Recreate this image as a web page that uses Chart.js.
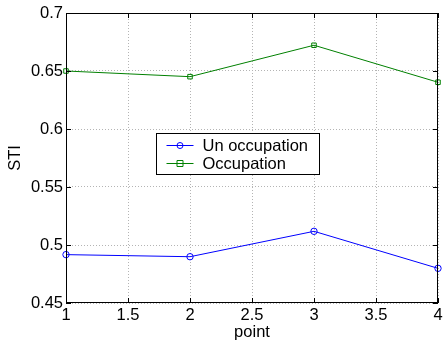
<!DOCTYPE html>
<html>
<head>
<meta charset="utf-8">
<script src="https://cdn.jsdelivr.net/npm/chart.js@4/dist/chart.umd.min.js"></script>
<style>
  html, body { margin: 0; padding: 0; background: #fff; }
  #wrap { width: 443px; height: 344px; }
</style>
</head>
<body>
<div id="wrap"><canvas id="c" width="443" height="344"></canvas></div>
<script>
// valores
const points = [1, 2, 3, 4];
const unOccupation = [0.4917, 0.4899, 0.5118, 0.4799];
const occupation = [0.6500, 0.6451, 0.6722, 0.6403];
const seriesNames = ['Un occupation', 'Occupation'];
const seriesColors = ['#0000ff', '#008000'];
const seriesMarkers = ['circle', 'rect'];
const xTicks = [1, 1.5, 2, 2.5, 3, 3.5, 4];
const yTicks = [0.45, 0.5, 0.55, 0.6, 0.65, 0.7];

const FONT = 'Liberation Sans, Arial, sans-serif';
const FONT_SIZE = 16.5;

function toXY(values) {
  return points.map((p, i) => ({ x: p, y: values[i] }));
}

// caja, ticks interiores (estilo matlab) y leyenda centrada
const boxPlugin = {
  id: 'box',
  afterDraw(chart) {
    const { ctx, chartArea: a, scales } = chart;
    ctx.save();
    ctx.strokeStyle = '#000';
    ctx.lineWidth = 1;
    ctx.strokeRect(a.left + 0.5, a.top + 0.5, a.right - a.left - 1, a.bottom - a.top - 1);
    const tl = 5;
    ctx.beginPath();
    xTicks.forEach((v) => {
      const px = Math.round(scales.x.getPixelForValue(v)) + 0.5;
      ctx.moveTo(px, a.bottom); ctx.lineTo(px, a.bottom - tl);
      ctx.moveTo(px, a.top); ctx.lineTo(px, a.top + tl);
    });
    yTicks.forEach((v) => {
      const py = Math.round(scales.y.getPixelForValue(v)) + 0.5;
      ctx.moveTo(a.left, py); ctx.lineTo(a.left + tl, py);
      ctx.moveTo(a.right, py); ctx.lineTo(a.right - tl, py);
    });
    ctx.stroke();

    // leyenda
    const w = a.right - a.left;
    const h = a.bottom - a.top;
    const lx = Math.round(a.left + w * 0.243) + 0.5;
    const ly = Math.round(a.top + h * 0.414) + 0.5;
    const lw = 163, lh = 41;
    ctx.fillStyle = '#fff';
    ctx.fillRect(lx, ly, lw, lh);
    ctx.strokeStyle = '#000';
    ctx.lineWidth = 1;
    ctx.strokeRect(lx, ly, lw, lh);
    ctx.font = FONT_SIZE + 'px ' + FONT;
    ctx.textBaseline = 'middle';
    ctx.textAlign = 'left';
    chart.data.datasets.forEach((ds, i) => {
      const cy = Math.round(ly + 11 + i * 18.5) + 0.5;
      ctx.strokeStyle = ds.borderColor;
      ctx.beginPath();
      ctx.moveTo(lx + 10, cy); ctx.lineTo(lx + 37, cy);
      ctx.stroke();
      const mx = lx + 23.5;
      ctx.beginPath();
      if (ds.pointStyle === 'circle') {
        ctx.arc(mx, cy, 3, 0, Math.PI * 2);
      } else {
        ctx.rect(mx - 3, cy - 3, 6, 6);
      }
      ctx.stroke();
      ctx.fillStyle = '#000';
      ctx.fillText(ds.label, lx + 46, cy + 1);
    });
    ctx.restore();
  },
};

const datasets = [unOccupation, occupation].map((vals, i) => ({
  label: seriesNames[i],
  data: toXY(vals),
  borderColor: seriesColors[i],
  backgroundColor: 'rgba(0,0,0,0)',
  borderWidth: 1,
  pointStyle: seriesMarkers[i],
  pointRadius: 3.2,
  pointBorderWidth: 1,
  pointBorderColor: seriesColors[i],
  pointBackgroundColor: 'rgba(0,0,0,0)',
  tension: 0,
  clip: false,
}));

const gridOpts = { color: '#b4b4b4', lineWidth: 1, drawTicks: false };

new Chart(document.getElementById('c'), {
  type: 'line',
  data: { datasets },
  plugins: [boxPlugin],
  options: {
    responsive: false,
    animation: false,
    events: [],
    layout: { padding: { top: 13, right: 2, left: 0, bottom: 0 } },
    plugins: { legend: { display: false }, tooltip: { enabled: false } },
    scales: {
      x: {
        type: 'linear',
        min: 1,
        max: 4,
        afterFit: (s) => { s.height = 41; s.paddingRight = 0; s.paddingLeft = 0; },
        afterBuildTicks: (s) => { s.ticks = xTicks.map((v) => ({ value: v })); },
        grid: gridOpts,
        border: { display: false, dash: [1, 2] },
        ticks: {
          padding: 3,
          color: '#000',
          maxRotation: 0,
          font: { family: FONT, size: FONT_SIZE },
          callback: (v) => String(v),
        },
        title: {
          display: true,
          text: 'point',
          color: '#000',
          font: { family: FONT, size: FONT_SIZE },
          padding: { top: 0, bottom: 2 },
        },
      },
      y: {
        min: 0.45,
        max: 0.7,
        afterFit: (s) => { s.width = 66; s.paddingTop = 0; s.paddingBottom = 0; },
        afterBuildTicks: (s) => { s.ticks = yTicks.map((v) => ({ value: v })); },
        grid: gridOpts,
        border: { display: false, dash: [1, 2] },
        ticks: {
          padding: 3,
          color: '#000',
          font: { family: FONT, size: FONT_SIZE },
          callback: (v) => String(Math.round(v * 100) / 100),
        },
        title: {
          display: true,
          text: 'STI',
          color: '#000',
          font: { family: FONT, size: FONT_SIZE },
          padding: { top: 6, bottom: 0 },
        },
      },
    },
  },
});
</script>
</body>
</html>
